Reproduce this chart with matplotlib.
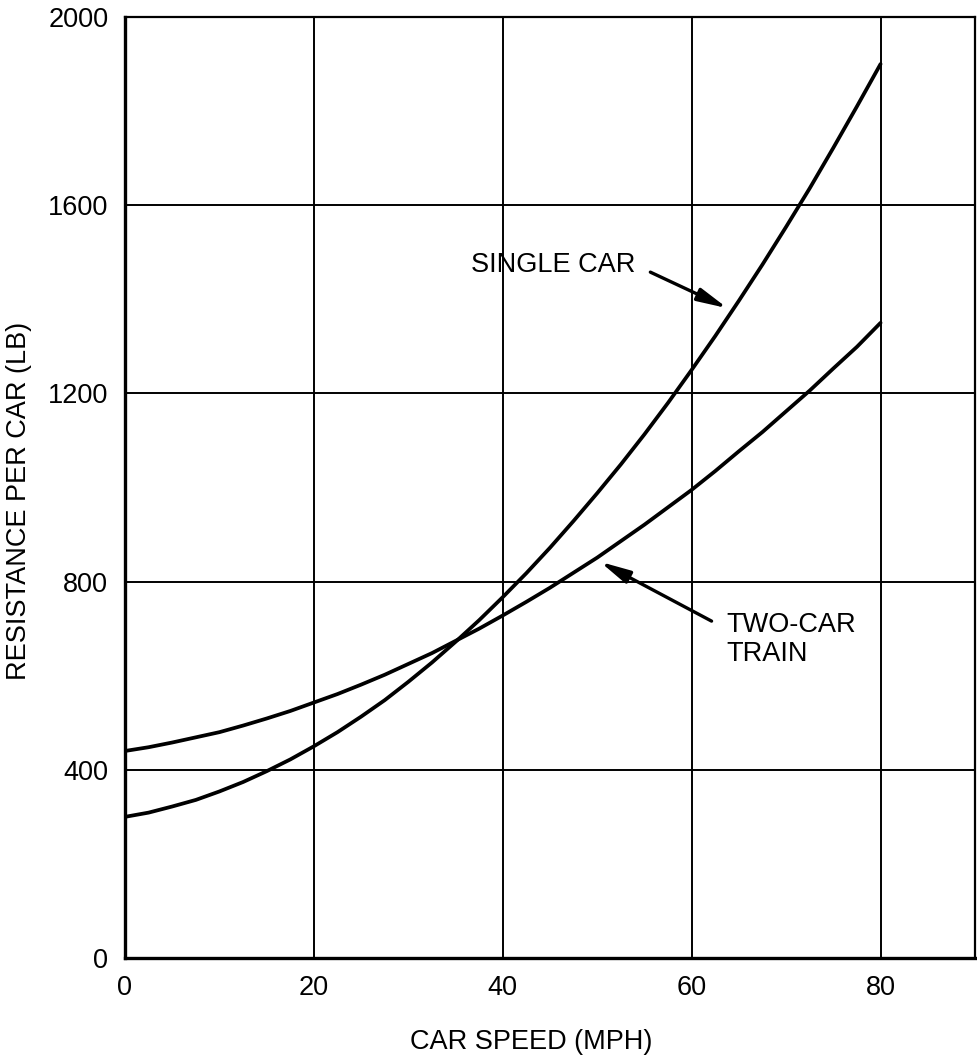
import matplotlib
matplotlib.use("Agg")
import matplotlib.pyplot as plt

plt.rcParams['font.family'] = ['Liberation Sans', 'DejaVu Sans']

# car speed (mph) and resistance per car (lb)
speed = [0, 2.5, 5, 7.5, 10, 12.5, 15, 17.5, 20, 22.5, 25, 27.5, 30, 32.5, 35, 37.5,
         40, 42.5, 45, 47.5, 50, 52.5, 55, 57.5, 60, 62.5, 65, 67.5, 70, 72.5, 75, 77.5, 80]
single_car = [300, 309, 322, 336, 354, 374, 397, 422, 450, 480, 513, 548, 587, 628, 672, 718,
              767, 818, 872, 929, 988, 1049, 1113, 1180, 1250, 1322, 1397, 1474, 1554, 1636, 1722, 1810, 1900]
two_car = [440, 448, 458, 469, 480, 494, 509, 525, 543, 561, 581, 602, 625, 648, 674, 700,
           728, 757, 787, 819, 851, 886, 921, 958, 995, 1035, 1077, 1118, 1162, 1206, 1253, 1299, 1350]

x_ticks = [0, 20, 40, 60, 80]
y_ticks = [0, 400, 800, 1200, 1600, 2000]

fig = plt.figure(figsize=(9.77, 10.57), dpi=100)
ax = fig.add_axes([125 / 977, 1 - 958 / 1057, 850 / 977, 941 / 1057])

ax.plot(speed, single_car, color="black", lw=2.7, solid_capstyle="round")
ax.plot(speed, two_car, color="black", lw=2.7, solid_capstyle="round")

ax.set_xlim(0, 90)
ax.set_ylim(0, 2000)
ax.set_xticks(x_ticks)
ax.set_yticks(y_ticks)
ax.tick_params(length=0, labelsize=19.5, pad=12)

ax.grid(True, color="black", lw=1.4)
ax.set_axisbelow(True)
for s in ["left", "bottom"]:
    ax.spines[s].set_linewidth(2.4)
for s in ["top", "right"]:
    ax.spines[s].set_linewidth(1.6)

ax.set_xlabel("CAR SPEED (MPH)", fontsize=19.5, va="center")
ax.xaxis.set_label_coords(0.478, -0.089)
ax.set_ylabel("RESISTANCE PER CAR (LB)", fontsize=19.5, va="center", ha="center")
ax.yaxis.set_label_coords(-0.1247, 0.486)

# labels with arrows
arrow = "-|>,head_length=1.0,head_width=0.22"
ax.annotate("SINGLE CAR", xy=(63.8, 1381), xytext=(54.0, 1473),
            fontsize=19.5, ha="right", va="center",
            arrowprops=dict(arrowstyle=arrow, color="black", lw=2.4,
                            mutation_scale=18, shrinkA=10, shrinkB=0,
                            relpos=(1, 0.5)))
ax.annotate("TWO-CAR\nTRAIN", xy=(50.3, 842), xytext=(63.7, 678),
            fontsize=19.5, ha="left", va="center", linespacing=1.15,
            arrowprops=dict(arrowstyle=arrow, color="black", lw=2.4,
                            mutation_scale=18, shrinkA=10, shrinkB=0,
                            relpos=(0, 0.68)))

fig.savefig("out.png", dpi=100)
